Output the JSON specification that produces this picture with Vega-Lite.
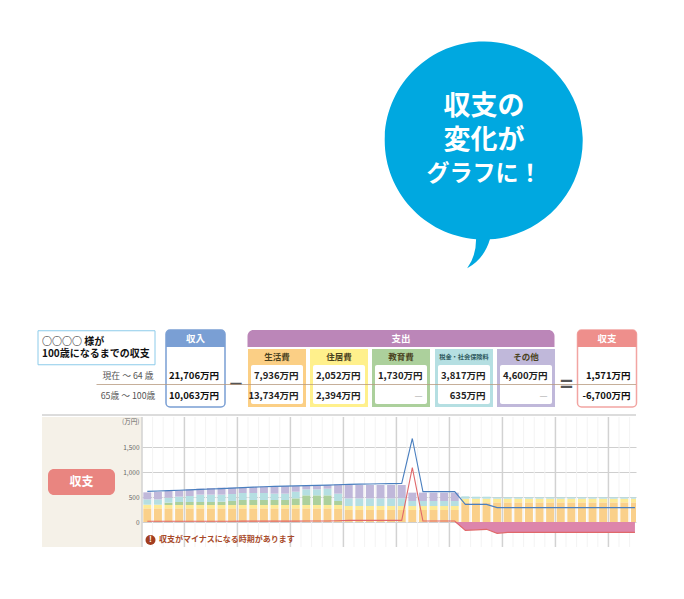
{
"$schema":"https://vega.github.io/schema/vega-lite/v6.json",
"padding":0,"background":"white",
"config":{"view":{"stroke":null},"text":{"font":"Noto Sans CJK JP"},"axis":{"labelFont":"Noto Sans CJK JP","titleFont":"Noto Sans CJK JP"}},
"datasets":{
"years":[
{"age":35,"生活費":273,"住居費":73,"教育費":0,"税金・社会保険料":107,"その他":140,"income":613,"balance":15},
{"age":36,"生活費":273,"住居費":73,"教育費":0,"税金・社会保険料":107,"その他":153,"income":620,"balance":15},
{"age":37,"生活費":273,"住居費":67,"教育費":47,"税金・社会保険料":100,"その他":140,"income":628,"balance":15},
{"age":38,"生活費":273,"住居費":67,"教育費":60,"税金・社会保険料":107,"その他":127,"income":635,"balance":15},
{"age":39,"生活費":273,"住居費":67,"教育費":60,"税金・社会保険料":120,"その他":133,"income":643,"balance":15},
{"age":40,"生活費":273,"住居費":67,"教育費":60,"税金・社会保険料":147,"その他":120,"income":652,"balance":15},
{"age":41,"生活費":273,"住居費":67,"教育費":60,"税金・社会保険料":147,"その他":133,"income":660,"balance":15},
{"age":42,"生活費":273,"住居費":67,"教育費":67,"税金・社会保険料":140,"その他":140,"income":668,"balance":15},
{"age":43,"生活費":273,"住居費":67,"教育費":80,"税金・社会保険料":140,"その他":127,"income":677,"balance":15},
{"age":44,"生活費":273,"住居費":67,"教育費":100,"税金・社会保険料":140,"その他":113,"income":688,"balance":18},
{"age":45,"生活費":273,"住居費":67,"教育費":100,"税金・社会保険料":140,"その他":120,"income":697,"balance":18},
{"age":46,"生活費":273,"住居費":67,"教育費":100,"税金・社会保険料":140,"その他":127,"income":705,"balance":18},
{"age":47,"生活費":273,"住居費":67,"教育費":100,"税金・社会保険料":127,"その他":147,"income":712,"balance":18},
{"age":48,"生活費":273,"住居費":67,"教育費":100,"税金・社会保険料":127,"その他":153,"income":718,"balance":18},
{"age":49,"生活費":273,"住居費":67,"教育費":133,"税金・社会保険料":133,"その他":113,"income":723,"balance":18},
{"age":50,"生活費":273,"住居費":67,"教育費":193,"税金・社会保険料":120,"その他":73,"income":728,"balance":20},
{"age":51,"生活費":273,"住居費":67,"教育費":193,"税金・社会保険料":120,"その他":80,"income":733,"balance":20},
{"age":52,"生活費":273,"住居費":67,"教育費":193,"税金・社会保険料":133,"その他":73,"income":738,"balance":20},
{"age":53,"生活費":260,"住居費":80,"教育費":80,"税金・社会保険料":147,"その他":187,"income":745,"balance":25},
{"age":54,"生活費":240,"住居費":80,"教育費":0,"税金・社会保険料":153,"その他":267,"income":752,"balance":33},
{"age":55,"生活費":240,"住居費":80,"教育費":0,"税金・社会保険料":153,"その他":267,"income":757,"balance":33},
{"age":56,"生活費":240,"住居費":80,"教育費":0,"税金・社会保険料":153,"その他":267,"income":761,"balance":33},
{"age":57,"生活費":240,"住居費":80,"教育費":0,"税金・社会保険料":153,"その他":267,"income":765,"balance":33},
{"age":58,"生活費":240,"住居費":80,"教育費":0,"税金・社会保険料":153,"その他":267,"income":767,"balance":33},
{"age":59,"生活費":240,"住居費":80,"教育費":0,"税金・社会保険料":153,"その他":267,"income":770,"balance":33},
{"age":60,"生活費":240,"住居費":80,"教育費":0,"税金・社会保険料":100,"その他":167,"income":1670,"balance":1087},
{"age":61,"生活費":240,"住居費":80,"教育費":0,"税金・社会保険料":100,"その他":167,"income":607,"balance":20},
{"age":62,"生活費":240,"住居費":80,"教育費":0,"税金・社会保険料":100,"その他":167,"income":607,"balance":20},
{"age":63,"生活費":240,"住居費":80,"教育費":0,"税金・社会保険料":100,"その他":167,"income":607,"balance":20},
{"age":64,"生活費":240,"住居費":80,"教育費":0,"税金・社会保険料":100,"その他":167,"income":607,"balance":20,"deficit":0},
{"age":65,"生活費":393,"住居費":73,"教育費":0,"税金・社会保険料":47,"その他":0,"income":353,"balance":-167,"deficit":-167},
{"age":66,"生活費":393,"住居費":73,"教育費":0,"税金・社会保険料":40,"その他":0,"income":353,"balance":-157,"deficit":-157},
{"age":67,"生活費":393,"住居費":73,"教育費":0,"税金・社会保険料":40,"その他":0,"income":353,"balance":-147,"deficit":-147},
{"age":68,"生活費":393,"住居費":73,"教育費":0,"税金・社会保険料":27,"その他":0,"income":287,"balance":-227,"deficit":-227},
{"age":69,"生活費":393,"住居費":73,"教育費":0,"税金・社会保険料":27,"その他":0,"income":287,"balance":-207,"deficit":-207},
{"age":70,"生活費":393,"住居費":73,"教育費":0,"税金・社会保険料":27,"その他":0,"income":287,"balance":-207,"deficit":-207},
{"age":71,"生活費":393,"住居費":73,"教育費":0,"税金・社会保険料":27,"その他":0,"income":287,"balance":-207,"deficit":-207},
{"age":72,"生活費":393,"住居費":73,"教育費":0,"税金・社会保険料":27,"その他":0,"income":287,"balance":-207,"deficit":-207},
{"age":73,"生活費":393,"住居費":73,"教育費":0,"税金・社会保険料":27,"その他":0,"income":287,"balance":-207,"deficit":-207},
{"age":74,"生活費":393,"住居費":73,"教育費":0,"税金・社会保険料":27,"その他":0,"income":287,"balance":-207,"deficit":-207},
{"age":75,"生活費":393,"住居費":73,"教育費":0,"税金・社会保険料":27,"その他":0,"income":287,"balance":-207,"deficit":-207},
{"age":76,"生活費":393,"住居費":73,"教育費":0,"税金・社会保険料":27,"その他":0,"income":287,"balance":-207,"deficit":-207},
{"age":77,"生活費":393,"住居費":73,"教育費":0,"税金・社会保険料":27,"その他":0,"income":287,"balance":-207,"deficit":-207},
{"age":78,"生活費":393,"住居費":73,"教育費":0,"税金・社会保険料":27,"その他":0,"income":287,"balance":-207,"deficit":-207},
{"age":79,"生活費":393,"住居費":73,"教育費":0,"税金・社会保険料":27,"その他":0,"income":287,"balance":-207,"deficit":-207},
{"age":80,"生活費":393,"住居費":73,"教育費":0,"税金・社会保険料":27,"その他":0,"income":287,"balance":-207,"deficit":-207},
{"age":81,"生活費":393,"住居費":73,"教育費":0,"税金・社会保険料":27,"その他":0,"income":287,"balance":-207,"deficit":-207}
],
"cards":[{"col":2,"name":"収入"},{"col":10,"name":"収支"}],
"subs":[{"col":4,"name":"生活費"},{"col":5,"name":"住居費"},{"col":6,"name":"教育費"},{"col":7,"name":"税金・社会保険料"},{"col":8,"name":"その他"}],
"cells":[
{"col":2,"row":2,"label":"21,706万円"},{"col":2,"row":3,"label":"10,063万円"},
{"col":10,"row":2,"label":"1,571万円"},{"col":10,"row":3,"label":"-6,700万円"},
{"col":4,"row":2,"label":"7,936万円"},{"col":4,"row":3,"label":"13,734万円"},
{"col":5,"row":2,"label":"2,052万円"},{"col":5,"row":3,"label":"2,394万円"},
{"col":6,"row":2,"label":"1,730万円"},
{"col":7,"row":2,"label":"3,817万円"},{"col":7,"row":3,"label":"635万円"},
{"col":8,"row":2,"label":"4,600万円"}
],
"dashes":[{"col":6,"row":3,"label":"—"},{"col":8,"row":3,"label":"—"}],
"periods":[{"col":1,"row":2,"label":"現在 〜 64 歳"},{"col":1,"row":3,"label":"65歳 〜 100歳"}],
"ops":[{"col":3,"row":2.5,"label":"−"},{"col":9,"row":2.5,"label":"="}],
"major":[{"g":34.5},{"g":38.5},{"g":43.5},{"g":48.5},{"g":53.5},{"g":58.5},{"g":63.5},{"g":68.5},{"g":73.5},{"g":78.5}],
"minor":[{"g":35.5},{"g":36.5},{"g":37.5},{"g":39.5},{"g":40.5},{"g":41.5},{"g":42.5},{"g":44.5},{"g":45.5},{"g":46.5},{"g":47.5},{"g":49.5},{"g":50.5},{"g":51.5},{"g":52.5},{"g":54.5},{"g":55.5},{"g":56.5},{"g":57.5},{"g":59.5},{"g":60.5},{"g":61.5},{"g":62.5},{"g":64.5},{"g":65.5},{"g":66.5},{"g":67.5},{"g":69.5},{"g":70.5},{"g":71.5},{"g":72.5},{"g":74.5},{"g":75.5},{"g":76.5},{"g":77.5},{"g":79.5},{"g":80.5}]
},
"spacing":0,"bounds":"flush",
"vconcat":[
{"width":684,"height":320,
 "data":{"values":[{"line":"収支の"},{"line":"変化が"},{"line":"グラフに！"}]},
 "encoding":{
  "x":{"field":"line","type":"nominal","axis":null,"sort":null,"scale":{"type":"point","range":[484,484]}},
  "y":{"field":"line","type":"nominal","axis":null,"sort":null,"scale":{"type":"point","padding":0,"domain":["収支の","変化が","グラフに！"],"range":[107,174]}}
 },
 "layer":[
  {"transform":[{"filter":"datum.line==='変化が'"}],
   "mark":{"type":"point","filled":true,"opacity":1,"color":"#00a8e0","size":39204,"strokeWidth":0,
    "shape":"M-0.08 0.997 Q-0.08 1.17 -0.17 1.29 Q0 1.2 0.06 0.998 A1 1 0 1 0 -0.08 0.997 Z"}},
  {"transform":[{"filter":"datum.line!=='グラフに！'"}],
   "mark":{"type":"text","color":"white","fontWeight":"bold","fontSize":27,"baseline":"middle","align":"center"},
   "encoding":{"text":{"field":"line"}}},
  {"transform":[{"filter":"datum.line==='グラフに！'"}],
   "mark":{"type":"text","color":"white","fontWeight":"bold","fontSize":23,"baseline":"middle","align":"center"},
   "encoding":{"text":{"field":"line"}}}
 ]
},
{"width":684,"height":97,
 "encoding":{
  "x":{"field":"col","type":"quantitative","axis":null,"scale":{"domain":[-1,0,1,2,3,4,5,6,7,8,9,10,11],"range":[42,96.5,128,195.5,236,277,339,401,464,526,566.5,607,636]}},
  "y":{"field":"row","type":"quantitative","axis":null,"scale":{"domain":[0,1,2,2.5,3,4],"range":[18.5,37,56,64.5,76,95]}}
 },
 "layer":[
  {"data":{"values":[{"col":0,"row":0.5,"label":"○○○○ 様が\n100歳になるまでの収支"}]},
   "mark":{"type":"rect","width":117,"height":34,"fill":"white","stroke":"#8ccbea","strokeWidth":1}},
  {"data":{"values":[{"col":0,"row":0.5,"label":"○○○○ 様が\n100歳になるまでの収支"}]},
   "mark":{"type":"text","fontSize":10,"fontWeight":"bold","lineBreak":"\n","lineHeight":12.5,"align":"left","baseline":"middle","dx":-54.5,"dy":-6,"color":"#111"},
   "encoding":{"text":{"field":"label"}}},
  {"data":{"name":"cards"},"transform":[{"calculate":"2","as":"row"}],"mark":{"type":"rect","width":59,"height":77,"yOffset":-7.5,"fill":"white","strokeWidth":1.5,"cornerRadius":4},
   "encoding":{"stroke":{"field":"name","legend":null,"scale":{"domain":["収入","収支"],"range":["#7a9fd4","#f2a5a2"]}}}},
  {"data":{"name":"cards"},"transform":[{"calculate":"0","as":"row"}],"mark":{"type":"rect","width":59,"height":17,"cornerRadiusTopLeft":4,"cornerRadiusTopRight":4},
   "encoding":{"fill":{"field":"name","legend":null,"scale":{"domain":["収入","収支","生活費","住居費","教育費","税金・社会保険料","その他"],"range":["#7a9fd4","#ee8f8c","#fbcf85","#fff08c","#acd09c","#b5dfe2","#c0b8da"]}}}},
  {"data":{"name":"cards"},"transform":[{"calculate":"0","as":"row"}],"mark":{"type":"text","color":"white","fontWeight":"bold","fontSize":9.5,"baseline":"middle"},
   "encoding":{"text":{"field":"name"}}},
  {"data":{"values":[{"col":6,"row":0,"name":"支出"}]},"mark":{"type":"rect","width":307,"height":17,"fill":"#bb86b8","cornerRadiusTopLeft":6,"cornerRadiusTopRight":6}},
  {"data":{"values":[{"col":6,"row":0,"name":"支出"}]},"mark":{"type":"text","color":"white","fontWeight":"bold","fontSize":9.5,"baseline":"middle"},"encoding":{"text":{"field":"name"}}},
  {"data":{"name":"subs"},"transform":[{"calculate":"2","as":"row"}],"mark":{"type":"rect","width":58,"height":58,"yOffset":2},
   "encoding":{"fill":{"field":"name","legend":null,"scale":{"domain":["収入","収支","生活費","住居費","教育費","税金・社会保険料","その他"],"range":["#7a9fd4","#ee8f8c","#fbcf85","#fff08c","#acd09c","#b5dfe2","#c0b8da"]}}}},
  {"data":{"name":"subs"},"transform":[{"calculate":"2.5","as":"row"}],"mark":{"type":"rect","width":52,"height":39,"fill":"white","cornerRadius":2}},
  {"data":{"name":"subs"},"transform":[{"filter":"datum.col!==7"},{"calculate":"1","as":"row"}],"mark":{"type":"text","color":"#4a4220","fontWeight":"bold","fontSize":8.5,"baseline":"middle"},"encoding":{"text":{"field":"name"}}},
  {"data":{"name":"subs"},"transform":[{"filter":"datum.col===7"},{"calculate":"1","as":"row"}],"mark":{"type":"text","color":"#2f5a60","fontWeight":"bold","fontSize":6.2,"baseline":"middle"},"encoding":{"text":{"field":"name"}}},
  {"data":{"name":"periods"},"mark":{"type":"text","color":"#555","fontSize":8.8,"baseline":"middle"},"encoding":{"text":{"field":"label"}}},
  {"data":{"name":"cells"},"transform":[{"filter":"datum.col===2||datum.col===10"}],"mark":{"type":"text","color":"#111","fontWeight":"bold","fontSize":9.5,"baseline":"middle","align":"right","dx":23.5},"encoding":{"text":{"field":"label"}}},
  {"data":{"name":"cells"},"transform":[{"filter":"datum.col!==2&&datum.col!==10"}],"mark":{"type":"text","color":"#222","fontWeight":"bold","fontSize":9.5,"baseline":"middle","align":"right","dx":21.5},"encoding":{"text":{"field":"label"}}},
  {"data":{"name":"dashes"},"mark":{"type":"text","color":"#aaa","fontSize":9,"baseline":"middle","align":"right","dx":21.5},"encoding":{"text":{"field":"label"}}},
  {"data":{"name":"ops"},"mark":{"type":"text","color":"#555","fontWeight":"bold","fontSize":22,"baseline":"middle"},"encoding":{"text":{"field":"label"}}},
  {"data":{"values":[{"col":0,"col2":11,"row":2.5}]},"mark":{"type":"rule","color":"#b89a80","strokeWidth":0.8},"encoding":{"x2":{"field":"col2"}}},
  {"data":{"values":[{"col":-1,"col2":11,"row":4}]},"mark":{"type":"rule","color":"#dcdcdc","strokeWidth":2},"encoding":{"x2":{"field":"col2"}}}
 ]
},
{"hconcat":[
 {"width":42,"height":130,"data":{"values":[{"label":""}]},"mark":{"type":"text"},"encoding":{"text":{"field":"label"}}},
 {"width":100,"height":130,"view":{"fill":"#f5f1e8","stroke":null},
  "data":{"values":[{"label":"収支","px":39.5,"py":65}]},
  "encoding":{"x":{"field":"px","type":"quantitative","axis":null,"scale":{"domain":[0,100]}},"y":{"field":"py","type":"quantitative","axis":null,"scale":{"domain":[130,0]}}},
  "layer":[
   {"mark":{"type":"rect","width":67,"height":26,"fill":"#e98580","cornerRadius":6}},
   {"mark":{"type":"text","color":"white","fontWeight":"bold","fontSize":12,"baseline":"middle"},"encoding":{"text":{"field":"label"}}}
  ]},
 {"width":494,"height":130,
  "layer":[
   {"data":{"name":"minor"},"mark":{"type":"rule","color":"#f3f3f3","strokeWidth":1},
    "encoding":{"x":{"field":"g","type":"quantitative","axis":null,"scale":{"domain":[34.5,81.1],"nice":false,"zero":false,"padding":0}}}},
   {"data":{"name":"major"},"mark":{"type":"rule","color":"#d2d2d2","strokeWidth":1.5},"encoding":{"x":{"field":"g","type":"quantitative","axis":null,"scale":{"domain":[34.5,81.1],"nice":false,"zero":false,"padding":0}}}},
   {"data":{"name":"years"},
    "transform":[{"fold":["生活費","住居費","教育費","税金・社会保険料","その他"],"as":["item","amount"]},{"calculate":"indexof(['生活費','住居費','教育費','税金・社会保険料','その他'],datum.item)","as":"rank"}],
    "mark":{"type":"bar","width":8,"clip":true},
    "encoding":{"x":{"field":"age","type":"quantitative","axis":null,"scale":{"domain":[34.5,81.1],"nice":false,"zero":false,"padding":0}},"y":{"field":"amount","type":"quantitative","stack":"zero","axis":{"title":"(万円)","titleAngle":0,"titleFontSize":6.5,"titleFontWeight":"normal","titleColor":"#666","titleX":-3,"titleY":7,"titleAlign":"right","values":[0,500,1000,1500],"format":",d","grid":true,"gridColor":"#cfcfcf","gridWidth":1,"domain":false,"ticks":false,"labelFontSize":6.5,"labelColor":"#666","labelPadding":3},"scale":{"domain":[-500,2100],"nice":false}},
     "order":{"field":"rank"},
     "color":{"field":"item","legend":null,"sort":null,"scale":{"domain":["その他","税金・社会保険料","教育費","住居費","生活費"],"range":["#c0b8da","#b5dfe2","#acd09c","#fdea96","#fad08a"]}}}},
   {"data":{"name":"years"},"transform":[{"filter":"isValid(datum.deficit)"}],"mark":{"type":"area","color":"#dd85ab","clip":true},"encoding":{"x":{"field":"age","type":"quantitative","axis":null,"scale":{"domain":[34.5,81.1],"nice":false,"zero":false,"padding":0}},"y":{"field":"deficit","type":"quantitative","scale":{"domain":[-500,2100],"nice":false}}}},
   {"data":{"name":"years"},"mark":{"type":"line","color":"#e0686a","strokeWidth":1.1,"clip":true},"encoding":{"x":{"field":"age","type":"quantitative","axis":null,"scale":{"domain":[34.5,81.1],"nice":false,"zero":false,"padding":0}},"y":{"field":"balance","type":"quantitative","scale":{"domain":[-500,2100],"nice":false}}}},
   {"data":{"name":"years"},"mark":{"type":"line","color":"#4a7fbf","strokeWidth":1.1,"clip":true},"encoding":{"x":{"field":"age","type":"quantitative","axis":null,"scale":{"domain":[34.5,81.1],"nice":false,"zero":false,"padding":0}},"y":{"field":"income","type":"quantitative","scale":{"domain":[-500,2100],"nice":false}}}},
   {"data":{"values":[{"age":35.3,"amount":-360,"mark":"!"}]},"mark":{"type":"point","filled":true,"shape":"circle","size":100,"color":"#a33e20","opacity":1},"encoding":{"x":{"field":"age","type":"quantitative","axis":null,"scale":{"domain":[34.5,81.1],"nice":false,"zero":false,"padding":0}},"y":{"field":"amount","type":"quantitative","scale":{"domain":[-500,2100],"nice":false}}}},
   {"data":{"values":[{"age":35.3,"amount":-360,"mark":"!"}]},"mark":{"type":"text","color":"white","fontWeight":"bold","fontSize":8,"baseline":"middle"},"encoding":{"x":{"field":"age","type":"quantitative","axis":null,"scale":{"domain":[34.5,81.1],"nice":false,"zero":false,"padding":0}},"y":{"field":"amount","type":"quantitative","scale":{"domain":[-500,2100],"nice":false}},"text":{"field":"mark"}}},
   {"data":{"values":[{"age":36.1,"amount":-360,"note":"収支がマイナスになる時期があります"}]},"mark":{"type":"text","color":"#a84a2a","fontWeight":"bold","fontSize":8,"baseline":"middle","align":"left"},"encoding":{"x":{"field":"age","type":"quantitative","axis":null,"scale":{"domain":[34.5,81.1],"nice":false,"zero":false,"padding":0}},"y":{"field":"amount","type":"quantitative","scale":{"domain":[-500,2100],"nice":false}},"text":{"field":"note"}}}
  ]}
 ],"spacing":0,"bounds":"flush"}
]
}
